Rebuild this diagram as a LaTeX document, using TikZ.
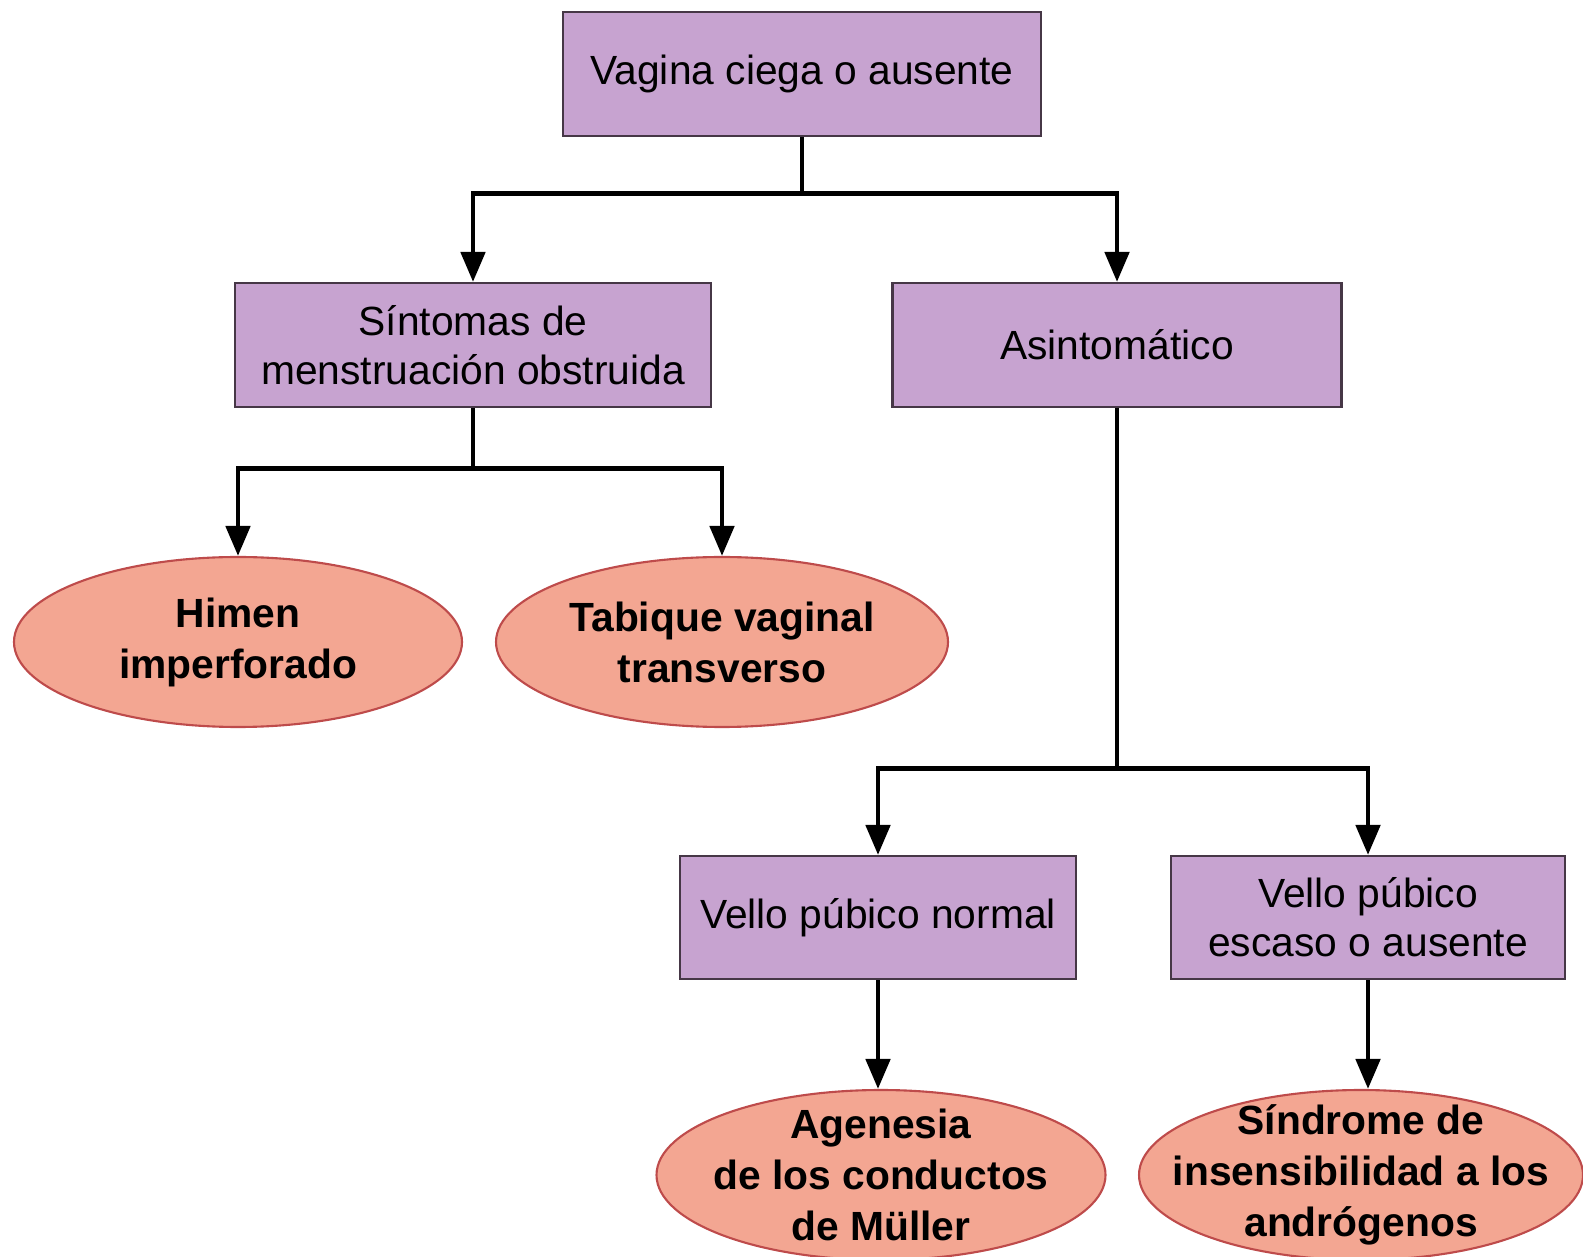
\documentclass[tikz,border=0pt]{standalone}
\usepackage{fontspec}
\setmainfont{Liberation Sans}
\usepackage{tikz}
\usetikzlibrary{positioning, arrows.meta, shapes.geometric}
\definecolor{boxlila}{RGB}{199,163,208}
\definecolor{boxedge}{RGB}{70,55,70}
\definecolor{ovalrosa}{RGB}{243,166,146}
\definecolor{ovaledge}{RGB}{190,75,75}
\tikzset{criterio/.style={draw=boxedge, fill=boxlila, line width=0.6pt, align=center, inner sep=0pt, font=\fontsize{11.6}{14}\selectfont, minimum height=1.24cm},diag/.style={ellipse, draw=ovaledge, fill=ovalrosa, line width=0.6pt, align=center, inner sep=-1cm, font=\fontsize{11.6}{14.5}\selectfont\bfseries, minimum height=1.7cm},flecha/.style={-{Triangle[length=3mm, width=2.4mm]}, line width=1.4pt}}

\begin{document}
\begin{tikzpicture}
  \useasboundingbox (0,0) rectangle (15.83,-12.57);

  % criterios
  \node[criterio, minimum width=4.78cm] (vag) at (8.02,-0.74) {Vagina ciega o ausente};
  \node[criterio, minimum width=4.76cm] (sint) at (4.73,-3.45) {Síntomas de\\ menstruación obstruida};
  \node[criterio, minimum width=4.49cm] (asin) at (11.17,-3.45) {Asintomático};
  \node[criterio, minimum width=3.96cm, minimum height=1.23cm] (vnor) at (8.78,-9.175) {Vello púbico normal};
  \node[criterio, minimum width=3.94cm, minimum height=1.23cm] (vesc) at (13.68,-9.175) {Vello púbico\\ escaso o ausente};

  % diagnosticos
  \node[diag, minimum width=4.48cm] (himen) at (2.38,-6.42) {Himen\\ imperforado};
  \node[diag, minimum width=4.52cm] (tabi) at (7.22,-6.42) {Tabique vaginal\\ transverso};
  \node[diag, minimum width=4.49cm] (agen) at (8.81,-11.75) {Agenesia\\ de los conductos\\ de Müller};
  \node[diag, minimum width=4.44cm] (insen) at (13.61,-11.75) {Síndrome de\\ insensibilidad a los\\ andrógenos};

  % conectores
  \draw[flecha] (vag.south) -- ++(0,-0.56) -| (sint.north);
  \draw[flecha] (vag.south) -- ++(0,-0.56) -| (asin.north);
  \draw[flecha] (sint.south) -- ++(0,-0.6) -| (himen.north);
  \draw[flecha] (sint.south) -- ++(0,-0.6) -| (tabi.north);
  \draw[flecha] (asin.south) -- ++(0,-3.6) -| (vnor.north);
  \draw[flecha] (asin.south) -- ++(0,-3.6) -| (vesc.north);
  \draw[flecha] (vnor.south) -- (vnor.south |- agen.north);
  \draw[flecha] (vesc.south) -- (vesc.south |- insen.north);
\end{tikzpicture}
\end{document}
